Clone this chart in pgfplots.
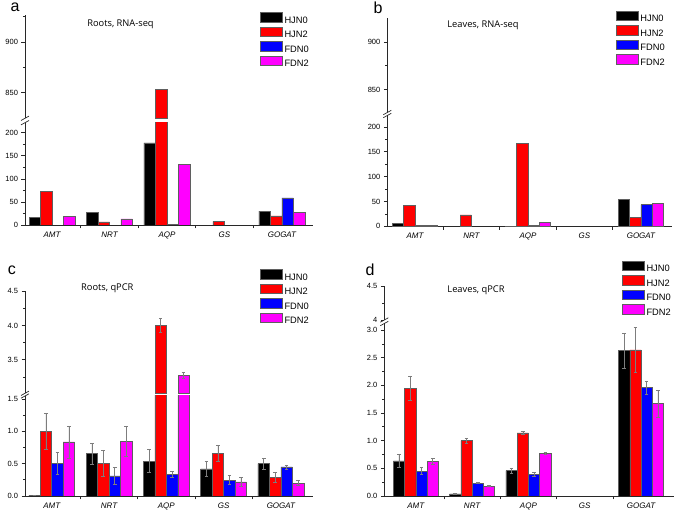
\documentclass[border=0pt]{standalone}
\usepackage{fontspec}
\setmainfont{Liberation Sans}
\newfontfamily\titlefont{Open Sans}
\usepackage{pgfplots}
\pgfplotsset{compat=1.18}
\definecolor{cA}{RGB}{0,0,0}
\definecolor{cB}{RGB}{255,0,0}
\definecolor{cC}{RGB}{0,0,255}
\definecolor{cD}{RGB}{255,0,255}
\definecolor{edge}{RGB}{95,95,95}
\definecolor{errc}{RGB}{125,125,125}
\definecolor{axc}{RGB}{40,40,40}
\tikzset{
  s1/.style={fill=cA, draw=edge, line width=0.5pt, bar shift=-0.3},
  s2/.style={fill=cB, draw=edge, line width=0.5pt, bar shift=-0.1},
  s3/.style={fill=cC, draw=edge, line width=0.5pt, bar shift=0.1},
  s4/.style={fill=cD, draw=edge, line width=0.5pt, bar shift=0.3},
}
\pgfplotsset{
  base/.style={
    scale only axis, anchor=south west,
    axis line style={line width=0.9pt, color=axc},
    tick align=outside,
    major tick length=3.5pt, minor tick length=2pt,
    tick style={line width=0.7pt, color=axc},
    ybar, bar width=0.2,
    scaled y ticks=false,
    ticklabel style={font=\fontsize{7.5}{8}\selectfont},
    /pgf/number format/assume math mode=true,
    legend image code/.code={\draw[##1, line width=0.6pt, draw=edge] (0pt,-1.4pt) rectangle (21.7pt,8pt);},
  },
  low/.style={base, axis y line*=left, axis x line*=bottom,
    xtick={0.5,1.5,2.5,3.5}, xticklabels={},
    extra x ticks={0,1,2,3,4},
    extra x tick labels={AMT,NRT,AQP,GS,GOGAT},
    extra x tick style={major tick length=0pt, tick style={draw=none}},
    x tick label style={font=\fontsize{8}{9}\selectfont\itshape, yshift=-3pt},
    minor y tick num=1,
    legend cell align=left,
    legend style={draw=none, fill=none, anchor=north west, inner sep=0pt,
      font=\fontsize{9.3}{10}\selectfont, row sep=1.5pt, column sep=1.5pt,
      nodes={inner sep=0.5pt, text height=7pt, text depth=1.5pt}},
  },
  up/.style={base, axis y line*=left, axis x line=none, xtick=\empty},
  eb/.style={error bars/y dir=both, error bars/y explicit,
    error bars/error bar style={errc, line width=0.5pt},
    error bars/error mark options={rotate=90, mark size=1.8pt, errc, line width=0.5pt}},
  dec/.style={yticklabel style={/pgf/number format/.cd, fixed, fixed zerofill, precision=1}},
}
\begin{document}
\begin{tikzpicture}[x=1pt,y=1pt]
\useasboundingbox (0,0) rectangle (675,514);
% ---------------- panel a ----------------
\begin{axis}[low, name=aL, at={(25pt,289pt)}, width=288pt, height=102.3pt,
  xmin=-0.47, xmax=4.54, ymin=0, ymax=221.7, ytick={0,50,100,150,200},
  legend style={at={(0.816,2.082)}}]
\addplot[s1] coordinates {(0,17.3) (1,26.7) (2,178) (4,30)};
\addplot[s2] coordinates {(0,73.6) (1,7) (2,853.3) (3,8) (4,19.5)};
\addplot[s3] coordinates {(2,1) (4,59)};
\addplot[s4] coordinates {(0,18) (1,13) (2,131) (4,28)};
\legend{HJN0,HJN2,FDN0,FDN2}
\end{axis}
\begin{axis}[up, name=aU, at={(25pt,395.7pt)}, width=288pt, height=103.3pt,
  xmin=-0.47, xmax=4.54, ymin=824.7, ymax=926.7, ytick={850,900}, minor ytick={875,925}]
\addplot[s2] coordinates {(2,853.3)};
\end{axis}
% ---------------- panel b ----------------
\begin{axis}[low, name=bL, at={(387.3pt,287.7pt)}, width=284.7pt, height=110.8pt,
  xmin=-0.49, xmax=4.55, ymin=0, ymax=223, ytick={0,50,100,150,200},
  legend style={at={(0.803,1.948)}}]
\addplot[s1] coordinates {(0,5.4) (2,0.5) (4,53.7)};
\addplot[s2] coordinates {(0,41.6) (1,22.8) (2,167) (4,18)};
\addplot[s3] coordinates {(0,2) (2,2) (4,43.6)};
\addplot[s4] coordinates {(0,1.5) (2,8) (4,46.3)};
\legend{HJN0,HJN2,FDN0,FDN2}
\end{axis}
\begin{axis}[up, name=bU, at={(387.3pt,401.5pt)}, width=284.7pt, height=94.2pt,
  xmin=-0.49, xmax=4.55, ymin=825.7, ymax=925.2, ytick={850,900}, minor ytick={875}]
\end{axis}
% ---------------- panel c ----------------
\begin{axis}[low, eb, dec, name=cL, at={(25pt,18pt)}, width=288pt, height=100pt,
  xmin=-0.466, xmax=4.56, ymin=0, ymax=1.546, ytick={0,0.5,1,1.5},
  legend style={at={(0.816,2.27)}}]
\addplot[s1] coordinates {(0,0.008) +- (0,0) (1,0.655) +- (0,0.16) (2,0.54) +- (0,0.18) (3,0.42) +- (0,0.12) (4,0.5) +- (0,0.08)};
\addplot[s2] coordinates {(0,1.0) +- (0,0.28) (1,0.505) +- (0,0.2) (2,4.0) +- (0,0.1) (3,0.66) +- (0,0.13) (4,0.29) +- (0,0.07)};
\addplot[s3] coordinates {(0,0.505) +- (0,0.17) (1,0.31) +- (0,0.13) (2,0.34) +- (0,0.045) (3,0.245) +- (0,0.07) (4,0.45) +- (0,0.03)};
\addplot[s4] coordinates {(0,0.835) +- (0,0.25) (1,0.845) +- (0,0.23) (2,3.272) +- (0,0.04) (3,0.22) +- (0,0.07) (4,0.2) +- (0,0.04)};
\legend{HJN0,HJN2,FDN0,FDN2}
\end{axis}
\begin{axis}[up, eb, dec, name=cU, at={(25pt,120.7pt)}, width=288pt, height=102.3pt,
  xmin=-0.466, xmax=4.56, ymin=3.01, ymax=4.505, ytick={3.5,4,4.5}, minor ytick={3.25,3.75,4.25}]
\addplot[s2] coordinates {(2,4.0) +- (0,0.1)};
\addplot[s4] coordinates {(2,3.272) +- (0,0.04)};
\end{axis}
% ---------------- panel d ----------------
\begin{axis}[low, eb, dec, name=dL, at={(384.3pt,18pt)}, width=289.7pt, height=172.5pt,
  xmin=-0.56, xmax=4.586, ymin=0, ymax=3.118, ytick={0,0.5,1,1.5,2,2.5,3},
  legend style={at={(0.8205,1.365)}}]
\addplot[s1] coordinates {(0,0.636) +- (0,0.11) (1,0.04) +- (0,0.005) (2,0.46) +- (0,0.05) (4,2.63) +- (0,0.32)};
\addplot[s2] coordinates {(0,1.95) +- (0,0.22) (1,1.0) +- (0,0.04) (2,1.14) +- (0,0.03) (4,2.64) +- (0,0.41)};
\addplot[s3] coordinates {(0,0.45) +- (0,0.065) (1,0.234) +- (0,0.01) (2,0.39) +- (0,0.04) (4,1.96) +- (0,0.12)};
\addplot[s4] coordinates {(0,0.624) +- (0,0.05) (1,0.18) +- (0,0.01) (2,0.768) +- (0,0.02) (4,1.67) +- (0,0.24)};
\legend{HJN0,HJN2,FDN0,FDN2}
\end{axis}
\begin{axis}[up, name=dU, at={(384.3pt,194pt)}, width=289.7pt, height=34.3pt,
  xmin=-0.56, xmax=4.586, ymin=4.0, ymax=4.505, ytick={4,4.5}, yticklabels={4,4.5}, minor ytick={4.25}]
\end{axis}
% ---------------- break marks ----------------
\foreach \n in {aL,bL,cL,dL}{
  \draw[line width=0.7pt, axc] ([shift={(-4pt,-2.2pt)}]\n.north west) -- ++(8pt,4.4pt);}
\foreach \n in {aU,bU,cU,dU}{
  \draw[line width=0.7pt, axc] ([shift={(-4pt,-2.2pt)}]\n.south west) -- ++(8pt,4.4pt);}
% ---------------- titles and letters ----------------
\node[font=\titlefont\fontsize{9.3}{10}\selectfont] at (120.5,490) {Roots, RNA-seq};
\node[font=\titlefont\fontsize{9.3}{10}\selectfont] at (483,489) {Leaves, RNA-seq};
\node[font=\titlefont\fontsize{9.3}{10}\selectfont] at (107.3,225.7) {Roots, qPCR};
\node[font=\titlefont\fontsize{9.3}{10}\selectfont] at (476,224) {Leaves, qPCR};
\node[font=\fontsize{16}{17}\selectfont] at (15,507) {a};
\node[font=\fontsize{16}{17}\selectfont] at (378,506) {b};
\node[font=\fontsize{16}{17}\selectfont] at (12,244) {c};
\node[font=\fontsize{16}{17}\selectfont] at (370,244) {d};
\end{tikzpicture}
\end{document}
